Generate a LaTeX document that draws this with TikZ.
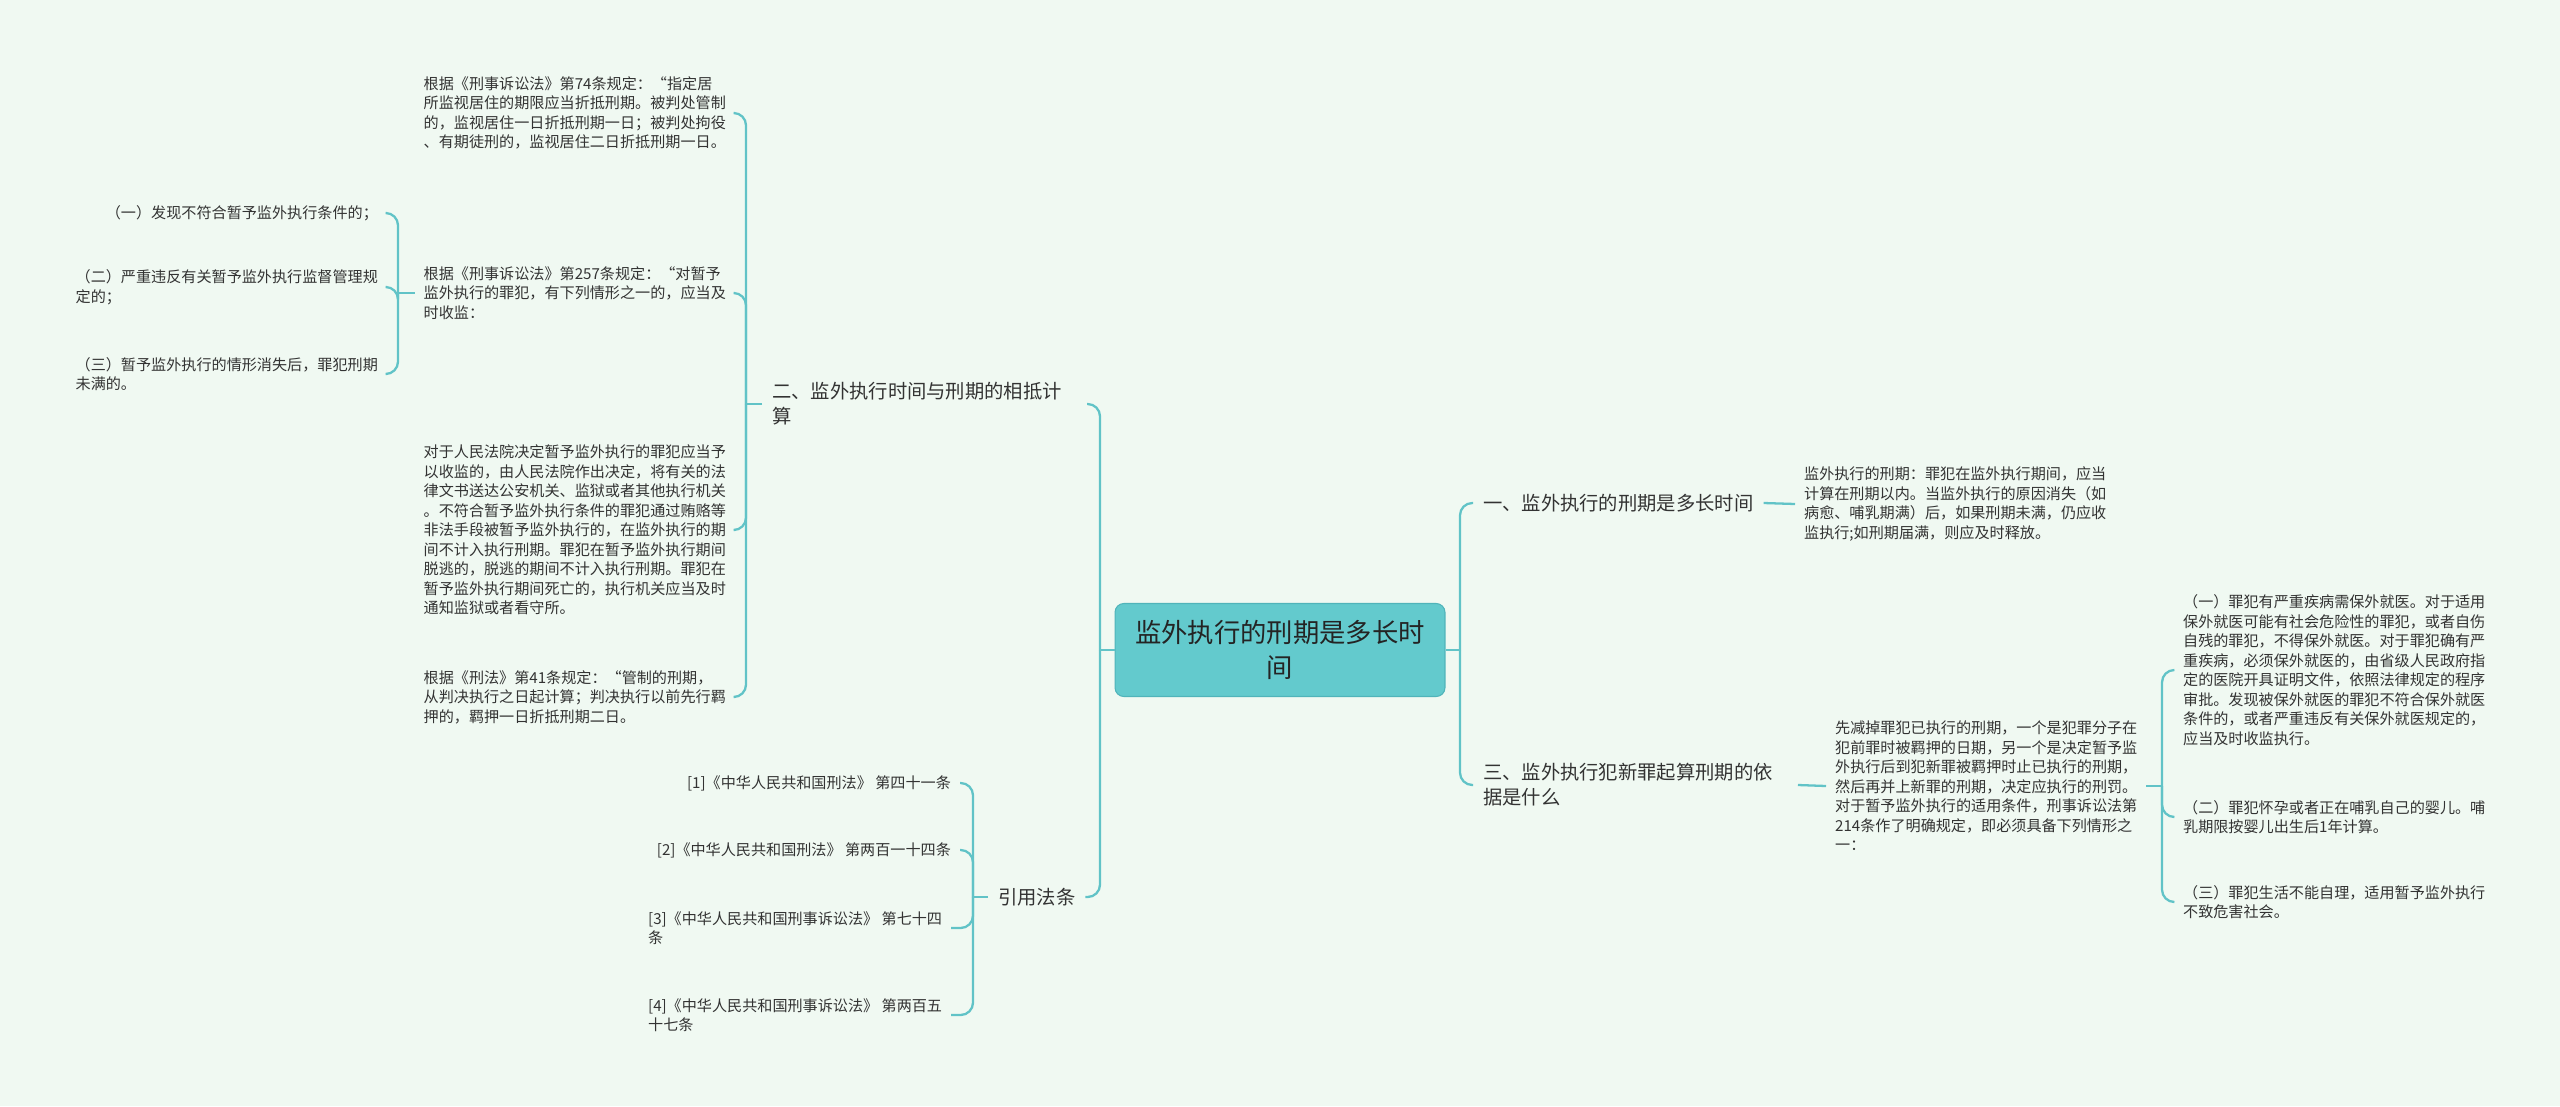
\documentclass[tikz,border=0pt]{standalone}
\usepackage{fontspec}
\setmainfont{Noto Sans CJK SC}
\usepackage{xcolor}
\usetikzlibrary{positioning}
\definecolor{bgmint}{RGB}{240,249,242}
\definecolor{tealline}{RGB}{97,195,199}
\definecolor{rootfill}{RGB}{99,202,205}
\definecolor{rootline}{RGB}{80,180,186}
\definecolor{inktext}{RGB}{51,51,51}
\tikzset{
  rootbox/.style={rectangle, rounded corners=5pt, fill=rootfill, draw=rootline, line width=0.6pt,
    minimum width=6.6cm, minimum height=1.86cm, align=center, text=inktext!70!black,
    font=\fontsize{15}{19.8}\selectfont},
  topicbox/.style={inner xsep=5.5pt, inner ysep=2pt, align=left, text=inktext,
    font=\fontsize{11}{14.2}\selectfont},
  widetopic/.style={topicbox, text width=6.1cm},
  leafbox/.style={inner xsep=5pt, inner ysep=2pt, align=left, text=inktext,
    font=\fontsize{8.6}{11.1}\selectfont},
  branch/.style={draw=tealline, line width=1.3pt, rounded corners=7pt}
}
\begin{document}
\begin{tikzpicture}[x=0.02cm, y=-0.02cm]
  \fill[bgmint] (0,0) rectangle (2560,1106);
  \node[rootbox] (root) at (1280,650) {监外执行的刑期是多长时\\间};
  % left side
  \node[widetopic, anchor=east] (sec2) at (1087,404) {二、监外执行时间与刑期的相抵计\\算};
  \node[topicbox, anchor=west]  (cite) at (988,897)  {引用法条};
  \node[leafbox, anchor=east] (law74) at (735,113)
        {根据《刑事诉讼法》第74条规定：“指定居\\
         所监视居住的期限应当折抵刑期。被判处管制\\
         的，监视居住一日折抵刑期一日；被判处拘役\\
         、有期徒刑的，监视居住二日折抵刑期一日。};
  \node[leafbox, anchor=east] (law257) at (735,293)
        {根据《刑事诉讼法》第257条规定：“对暂予\\
         监外执行的罪犯，有下列情形之一的，应当及\\
         时收监：};
  \node[leafbox, anchor=east] (court) at (735,530)
        {对于人民法院决定暂予监外执行的罪犯应当予\\
         以收监的，由人民法院作出决定，将有关的法\\
         律文书送达公安机关、监狱或者其他执行机关\\
         。不符合暂予监外执行条件的罪犯通过贿赂等\\
         非法手段被暂予监外执行的，在监外执行的期\\
         间不计入执行刑期。罪犯在暂予监外执行期间\\
         脱逃的，脱逃的期间不计入执行刑期。罪犯在\\
         暂予监外执行期间死亡的，执行机关应当及时\\
         通知监狱或者看守所。};
  \node[leafbox, anchor=east] (law41) at (735,697)
        {根据《刑法》第41条规定：“管制的刑期，\\
         从判决执行之日起计算；判决执行以前先行羁\\
         押的，羁押一日折抵刑期二日。};
  \node[leafbox, anchor=east] (case1) at (387,213) {（一）发现不符合暂予监外执行条件的；};
  \node[leafbox, anchor=east] (case2) at (387,287) {（二）严重违反有关暂予监外执行监督管理规\\定的；};
  \node[leafbox, anchor=east] (case3) at (387,374) {（三）暂予监外执行的情形消失后，罪犯刑期\\未满的。};
  \node[leafbox, anchor=east] (ref1) at (960,783)  {[1]《中华人民共和国刑法》 第四十一条};
  \node[leafbox, anchor=east] (ref2) at (960,850)  {[2]《中华人民共和国刑法》 第两百一十四条};
  \node[leafbox, anchor=west] (ref3) at (639,928)  {[3]《中华人民共和国刑事诉讼法》 第七十四\\条};
  \node[leafbox, anchor=west] (ref4) at (639,1015) {[4]《中华人民共和国刑事诉讼法》 第两百五\\十七条};
  % right side
  \node[topicbox, anchor=west]  (sec1) at (1473,503) {一、监外执行的刑期是多长时间};
  \node[widetopic, anchor=west] (sec3) at (1473,785) {三、监外执行犯新罪起算刑期的依\\据是什么};
  \node[leafbox, anchor=west] (term) at (1795,504)
        {监外执行的刑期：罪犯在监外执行期间，应当\\
         计算在刑期以内。当监外执行的原因消失（如\\
         病愈、哺乳期满）后，如果刑期未满，仍应收\\
         监执行;如刑期届满，则应及时释放。};
  \node[leafbox, anchor=west] (newcrime) at (1826,786)
        {先减掉罪犯已执行的刑期，一个是犯罪分子在\\
         犯前罪时被羁押的日期，另一个是决定暂予监\\
         外执行后到犯新罪被羁押时止已执行的刑期，\\
         然后再并上新罪的刑期，决定应执行的刑罚。\\
         对于暂予监外执行的适用条件，刑事诉讼法第\\
         214条作了明确规定，即必须具备下列情形之\\
         一：};
  \node[leafbox, anchor=west] (cond1) at (2174,670)
        {（一）罪犯有严重疾病需保外就医。对于适用\\
         保外就医可能有社会危险性的罪犯，或者自伤\\
         自残的罪犯，不得保外就医。对于罪犯确有严\\
         重疾病，必须保外就医的，由省级人民政府指\\
         定的医院开具证明文件，依照法律规定的程序\\
         审批。发现被保外就医的罪犯不符合保外就医\\
         条件的，或者严重违反有关保外就医规定的，\\
         应当及时收监执行。};
  \node[leafbox, anchor=west] (cond2) at (2174,817)
        {（二）罪犯怀孕或者正在哺乳自己的婴儿。哺\\
         乳期限按婴儿出生后1年计算。};
  \node[leafbox, anchor=west] (cond3) at (2174,902)
        {（三）罪犯生活不能自理，适用暂予监外执行\\
         不致危害社会。};
  % junctions
  \coordinate (jroot l) at (1100,650);
  \coordinate (jroot r) at (1460,650);
  \coordinate (jsec2) at (746,404);
  \coordinate (j257) at (398,293);
  \coordinate (jcite) at (973,897);
  \coordinate (jnew) at (2162,786);
  % connectors
  \draw[branch] (root.west) -- (jroot l);
  \draw[branch] (jroot l) |- (sec2.east);
  \draw[branch] (jroot l) |- (cite.east);
  \draw[branch] (root.east) -- (jroot r);
  \draw[branch] (jroot r) |- (sec1.west);
  \draw[branch] (jroot r) |- (sec3.west);
  \draw[branch] (sec2.west) -- (jsec2);
  \foreach \kid in {law74, law257, court, law41}
    \draw[branch] (jsec2) |- (\kid.east);
  \draw[branch] (law257.west) -- (j257);
  \foreach \kid in {case1, case2, case3}
    \draw[branch] (j257) |- (\kid.east);
  \draw[branch] (cite.west) -- (jcite);
  \foreach \kid in {ref1, ref2, ref3, ref4}
    \draw[branch] (jcite) |- (\kid.east);
  \draw[branch] (sec1.east) -- (term.west);
  \draw[branch] (sec3.east) -- (newcrime.west);
  \draw[branch] (newcrime.east) -- (jnew);
  \foreach \kid in {cond1, cond2, cond3}
    \draw[branch] (jnew) |- (\kid.west);
\end{tikzpicture}
\end{document}
